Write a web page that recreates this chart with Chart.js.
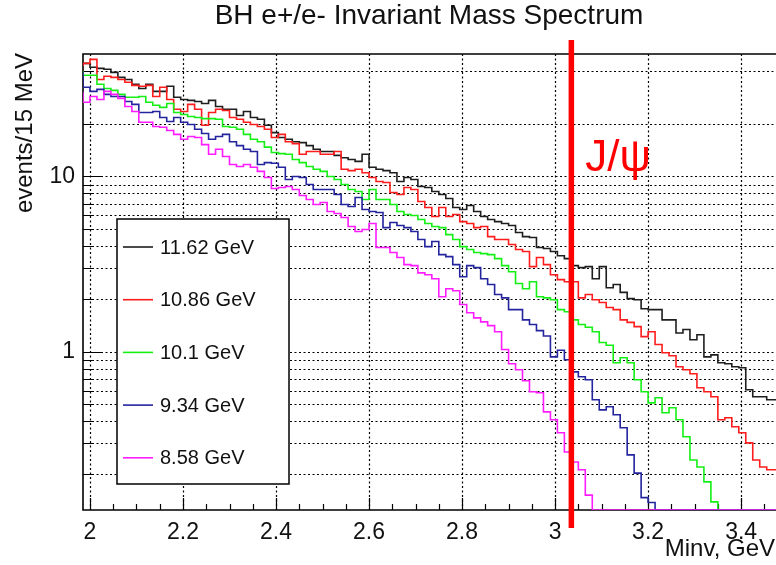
<!DOCTYPE html>
<html>
<head>
<meta charset="utf-8">
<script src="https://cdn.jsdelivr.net/npm/chart.js@4.4.1/dist/chart.umd.min.js"></script>
<style>
  html, body { margin: 0; padding: 0; background: #fff; }
  #wrap { width: 776px; height: 565px; }
</style>
</head>
<body>
<div id="wrap"><canvas id="myChart" width="776" height="565"></canvas></div>
<script>
// 15 MeV bins, the first one starts at 1.985 GeV
const binStart = 1.985;
const binWidth = 0.015;

const energies = ['11.62 GeV', '10.86 GeV', '10.1 GeV', '9.34 GeV', '8.58 GeV'];
const colors = ['#1e1e1e', '#ff1c1c', '#14f014', '#24249f', '#ff1cff'];

// events / 15 MeV, one value per bin (0 = empty bin)
const e1162 = [
  43.1, 44.2, 42.0, 41.4, 40.9, 39.3, 36.8, 35.8, 33.6, 31.8,
  33.6, 30.6, 30.6, 32.7, 28.3, 27.5, 27.2, 26.8, 26.1, 27.2,
  25.1, 24.2, 24.2, 22.3, 23.5, 21.7, 21.2, 19.6, 17.8, 16.7,
  16.3, 15.8, 15.6, 15.0, 14.3, 13.9, 13.9, 13.2, 12.8, 12.5,
  12.2, 13.4, 11.3, 11.0, 10.8, 10.5, 9.36, 9.87, 9.61, 8.76,
  8.66, 8.21, 7.89, 7.49, 6.65, 6.48, 6.83, 6.31, 5.91, 5.68,
  5.53, 5.39, 5.25, 4.79, 4.54, 4.49, 3.93, 3.88, 3.73, 3.53,
  3.40, 3.10, 3.02, 3.06, 2.61, 3.06, 2.32, 2.42, 2.18, 2.01,
  1.98, 1.76, 1.74, 1.74, 1.52, 1.52, 1.28, 1.34, 1.17, 1.25,
  0.935, 0.96, 0.866, 0.854, 0.821, 0.81, 0.607, 0.553, 0.553, 0.532
];
const e1086 = [
  42.5, 44.2, 46.6, 35.8, 37.3, 36.8, 35.8, 34.5, 33.1, 32.7,
  33.1, 28.6, 32.3, 27.5, 24.2, 23.5, 25.8, 24.2, 19.6, 23.2,
  24.2, 23.8, 21.7, 21.2, 20.4, 19.8, 19.3, 18.6, 16.7, 17.4,
  15.8, 15.4, 13.4, 13.9, 13.9, 13.4, 13.4, 13.9, 11.0, 10.8,
  11.0, 10.5, 9.87, 9.36, 9.24, 8.1, 7.89, 8.66, 8.43, 7.2,
  6.65, 5.91, 6.65, 5.91, 6.07, 5.53, 5.39, 5.11, 5.18, 4.54,
  4.37, 4.37, 4.09, 3.83, 3.73, 3.06, 3.45, 3.14, 2.75, 2.58,
  2.51, 2.51, 2.03, 2.12, 1.98, 1.91, 1.79, 1.74, 1.52, 1.47,
  1.39, 1.22, 1.30, 1.10, 0.986, 0.948, 0.821, 0.789, 0.749, 0.623,
  0.591, 0.553, 0.409, 0.42, 0.373, 0.345, 0.302, 0.241, 0.22, 0.212
];
const e1010 = [
  39.8, 37.8, 37.8, 33.6, 31.8, 31.0, 29.4, 28.3, 28.3, 28.6,
  26.5, 25.5, 24.8, 26.1, 23.2, 22.6, 22.0, 21.7, 21.4, 21.4,
  21.2, 19.3, 19.1, 18.6, 17.4, 16.3, 15.8, 14.7, 13.7, 13.5,
  13.4, 12.5, 12.0, 11.4, 11.0, 10.7, 10.0, 9.61, 9.0, 8.43,
  8.21, 7.39, 8.43, 7.39, 7.39, 6.92, 6.31, 6.07, 5.99, 5.68,
  5.39, 5.18, 5.11, 4.66, 4.37, 3.98, 3.83, 3.68, 3.63, 3.58,
  3.40, 3.10, 2.86, 2.45, 2.29, 2.51, 2.06, 2.03, 1.98, 1.74,
  1.69, 1.52, 1.43, 1.38, 1.30, 1.13, 1.09, 0.866, 0.924, 0.866,
  0.692, 0.591, 0.511, 0.546, 0.449, 0.479, 0.409, 0.327, 0.241, 0.22,
  0.181, 0.139, 0, 0, 0, 0, 0, 0, 0, 0
];
const e934 = [
  39.3, 32.3, 30.6, 31.4, 29.4, 28.6, 28.6, 26.8, 25.8, 23.2,
  23.2, 23.5, 21.7, 20.6, 21.7, 20.4, 19.8, 18.6, 17.6, 16.3,
  16.9, 17.4, 15.8, 15.0, 14.3, 13.9, 11.7, 12.0, 11.9, 11.3,
  9.61, 10.0, 9.87, 9.0, 8.43, 8.43, 8.43, 7.89, 6.92, 6.74,
  7.59, 6.48, 6.31, 6.23, 5.11, 5.46, 5.25, 5.11, 4.85, 4.37,
  3.98, 4.26, 3.58, 3.49, 3.14, 2.68, 3.10, 3.02, 2.61, 2.42,
  2.12, 2.03, 1.74, 1.74, 1.52, 1.43, 1.32, 1.23, 0.935, 1.02,
  0.90, 0.768, 0.72, 0.692, 0.532, 0.466, 0.485, 0.437, 0.368, 0.258,
  0.203, 0.147, 0.138, 0, 0, 0, 0, 0, 0, 0,
  0, 0, 0, 0, 0, 0, 0, 0, 0, 0
];
const e858 = [
  30.2, 26.5, 28.6, 27.5, 30.6, 29.4, 27.9, 25.1, 23.5, 20.4,
  20.4, 19.3, 19.1, 18.3, 17.4, 16.3, 16.9, 16.7, 15.2, 13.4,
  14.3, 13.0, 11.7, 11.4, 11.7, 11.3, 10.7, 9.87, 8.54, 8.66,
  8.76, 8.43, 7.79, 7.39, 6.92, 7.11, 6.31, 6.15, 5.83, 5.18,
  4.85, 4.98, 5.39, 3.93, 3.93, 3.68, 3.45, 3.14, 3.10, 2.82,
  2.75, 2.61, 2.06, 2.29, 2.23, 1.86, 1.67, 1.56, 1.48, 1.41,
  1.30, 1.03, 0.854, 0.789, 0.683, 0.591, 0.583, 0.454, 0.409, 0.345,
  0.268, 0.235, 0.212, 0.152, 0, 0, 0, 0, 0, 0,
  0, 0, 0, 0, 0, 0, 0, 0, 0, 0,
  0, 0, 0, 0, 0, 0, 0, 0, 0, 0
];

const xTicks = [2, 2.2, 2.4, 2.6, 2.8, 3, 3.2, 3.4];
const yTicks = [0.2, 0.3, 0.4, 0.5, 0.6, 0.7, 0.8, 0.9, 1, 2, 3, 4, 5, 6, 7, 8, 9, 10, 20, 40];
const yLabeled = [1, 10];
const xMin = 1.985, xMax = 3.475;
const yMin = 0.125, yMax = 50;
const jpsiMass = 3.035;

const FONT = '"Liberation Sans", Arial, Helvetica, sans-serif';

// histogram -> step points on bin edges; empty bins sit on the axis floor like ROOT does
function histPoints(values) {
  const pts = values.map((v, i) => ({ x: binStart + i * binWidth, y: v > 0 ? v : yMin }));
  pts.push({ x: binStart + values.length * binWidth, y: pts[pts.length - 1].y });
  return pts;
}

const series = [e1162, e1086, e1010, e934, e858];

const framePlugin = {
  id: 'frame',
  beforeDatasetsDraw(chart) {
    const { ctx, chartArea: a, scales: { x, y } } = chart;
    ctx.save();
    // dotted grid
    ctx.strokeStyle = '#000';
    ctx.lineWidth = 1.2;
    ctx.setLineDash([2, 2.5]);
    ctx.beginPath();
    xTicks.forEach(v => {
      const px = Math.round(x.getPixelForValue(v)) + 0.5;
      ctx.moveTo(px, a.top);
      ctx.lineTo(px, a.bottom);
    });
    yTicks.forEach(v => {
      const py = Math.round(y.getPixelForValue(v)) + 0.5;
      ctx.moveTo(a.left, py);
      ctx.lineTo(a.right, py);
    });
    ctx.stroke();
    ctx.setLineDash([]);

    ctx.lineWidth = 1.2;
    // x ticks: major every 0.2, minor every 0.05
    ctx.beginPath();
    for (let k = 0; k <= 29; k++) {
      const v = 2 + k * 0.05;
      const px = Math.round(x.getPixelForValue(v)) + 0.5;
      const len = (k % 4 === 0) ? 12 : 6;
      ctx.moveTo(px, a.bottom);
      ctx.lineTo(px, a.bottom - len);
    }
    // y ticks
    yTicks.forEach(v => {
      const py = Math.round(y.getPixelForValue(v)) + 0.5;
      const len = yLabeled.includes(v) ? 20 : 9;
      ctx.moveTo(a.left, py);
      ctx.lineTo(a.left + len, py);
    });
    ctx.stroke();
    // frame
    ctx.lineWidth = 1.6;
    ctx.beginPath();
    ctx.moveTo(a.right + 2, a.top);
    ctx.lineTo(a.left, a.top);
    ctx.lineTo(a.left, a.bottom);
    ctx.lineTo(a.right + 2, a.bottom);
    ctx.stroke();
    ctx.restore();
  },
  afterDatasetsDraw(chart) {
    const { ctx, chartArea: a, scales: { x } } = chart;
    ctx.save();
    // J/psi marker
    const jx = x.getPixelForValue(jpsiMass);
    ctx.strokeStyle = '#ff0000';
    ctx.lineWidth = 5.5;
    ctx.beginPath();
    ctx.moveTo(jx, a.top - 14);
    ctx.lineTo(jx, a.bottom + 18);
    ctx.stroke();
    ctx.fillStyle = '#ff0000';
    ctx.font = '44px ' + FONT;
    ctx.textAlign = 'left';
    ctx.textBaseline = 'alphabetic';
    ctx.fillText('J/\u03C8', jx + 14, 171);

    // legend box
    const lx = 117, ly = 219, lw = 172, lh = 265;
    ctx.fillStyle = '#fff';
    ctx.fillRect(lx, ly, lw, lh);
    ctx.strokeStyle = '#000';
    ctx.lineWidth = 1.5;
    ctx.strokeRect(lx, ly, lw, lh);
    ctx.font = '20px ' + FONT;
    ctx.textBaseline = 'middle';
    chart.data.datasets.forEach((ds, i) => {
      const cy = 247 + i * 52.7;
      ctx.strokeStyle = ds.borderColor;
      ctx.lineWidth = 1.6;
      ctx.beginPath();
      ctx.moveTo(lx + 6, cy);
      ctx.lineTo(lx + 36, cy);
      ctx.stroke();
      ctx.fillStyle = '#111';
      ctx.fillText(ds.label, lx + 43, cy + 1);
    });

    // titles
    ctx.fillStyle = '#111';
    ctx.font = '28px ' + FONT;
    ctx.textAlign = 'center';
    ctx.textBaseline = 'middle';
    ctx.fillText('BH e+/e- Invariant Mass Spectrum', 429, 16);
    ctx.font = '24px ' + FONT;
    ctx.textAlign = 'right';
    ctx.fillText('Minv, GeV', 775, 549);
    ctx.translate(25, a.top - 1);
    ctx.rotate(-Math.PI / 2);
    ctx.fillText('events/15 MeV', 0, 0);
    ctx.restore();
  }
};

const ctx = document.getElementById('myChart').getContext('2d');

new Chart(ctx, {
  type: 'line',
  data: {
    datasets: series.map((vals, i) => ({
      label: energies[i],
      data: histPoints(vals),
      borderColor: colors[i],
      borderWidth: 1.6,
      pointRadius: 0,
      stepped: 'after',
      fill: false,
      order: series.length - i
    }))
  },
  options: {
    responsive: false,
    animation: false,
    layout: { padding: { top: 54, left: 0, right: 0, bottom: 0 } },
    plugins: { legend: { display: false }, tooltip: { enabled: false } },
    scales: {
      x: {
        type: 'linear',
        min: xMin,
        max: xMax,
        afterBuildTicks: axis => { axis.ticks = xTicks.map(v => ({ value: v })); },
        afterFit: axis => { axis.height = 55; },
        grid: { display: false, drawTicks: false },
        border: { display: false },
        ticks: {
          color: '#111',
          padding: 9,
          maxRotation: 0,
          autoSkip: false,
          font: { family: FONT, size: 23 },
          callback: v => String(Number(v.toFixed(2)))
        }
      },
      y: {
        type: 'logarithmic',
        min: yMin,
        max: yMax,
        afterBuildTicks: axis => { axis.ticks = yTicks.map(v => ({ value: v })); },
        afterFit: axis => { axis.width = 83; },
        grid: { display: false, drawTicks: false },
        border: { display: false },
        ticks: {
          color: '#111',
          padding: 8,
          autoSkip: false,
          font: { family: FONT, size: 23 },
          callback: v => (yLabeled.includes(v) ? String(v) : '')
        }
      }
    }
  },
  plugins: [framePlugin]
});
</script>
</body>
</html>
